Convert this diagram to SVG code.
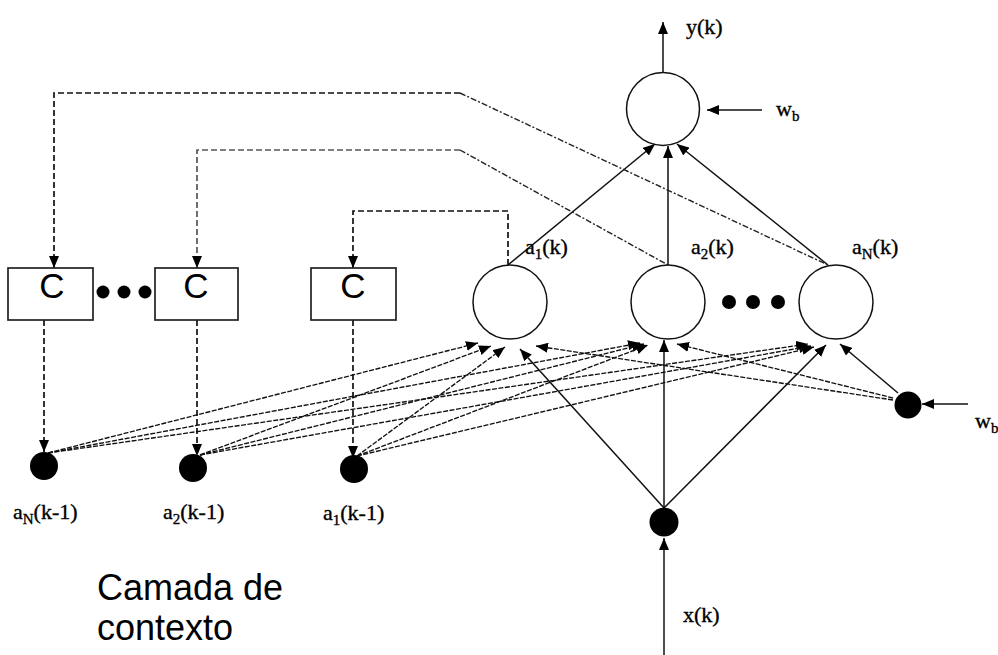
<svg xmlns="http://www.w3.org/2000/svg" width="998" height="655" viewBox="0 0 998 655">
  <style>
    .neuron { fill: none; stroke: #111; stroke-width: 1.5; }
    .dot { fill: #000; }
    .box { fill: #fff; stroke: #222; stroke-width: 1.7; }
    .solid { stroke: #111; stroke-width: 1.5; fill: none; }
    .fb { stroke: #111; stroke-width: 1.7; fill: none; stroke-dasharray: 6 3; }
    .fbdiag { stroke: #222; stroke-width: 1.4; fill: none; stroke-dasharray: 6 2 2 2; }
    .ctx { stroke: #111; stroke-width: 1.35; fill: none; stroke-dasharray: 5 1.5; }
    .lbl { font-family: "Liberation Serif", "Times New Roman", serif; font-size: 22px; fill: #000; stroke: #000; stroke-width: 0.35; }
    .sub { font-size: 15px; }
    .cl { font-family: "Liberation Sans", Arial, sans-serif; font-size: 35px; fill: #000; text-anchor: middle; }
    .cap { font-family: "Liberation Sans", Arial, sans-serif; font-size: 36px; fill: #000; }
  </style>
  <defs>
    <marker id="ah" viewBox="0 0 12 10" refX="12" refY="5" markerWidth="12" markerHeight="10" markerUnits="userSpaceOnUse" orient="auto">
      <path d="M0,0 L12,5 L0,10 z" fill="#000"/>
    </marker>
  </defs>

  <!-- connectors -->
  <g id="connectors">
    <!-- output -->
    <line class="solid" x1="663" y1="72" x2="663" y2="22" marker-end="url(#ah)"/>
    <line class="solid" x1="762" y1="110" x2="707" y2="110" marker-end="url(#ah)"/>
    <!-- hidden to output -->
    <line class="solid" x1="508" y1="265" x2="655" y2="144" marker-end="url(#ah)"/>
    <line class="solid" x1="668" y1="265" x2="668" y2="146" marker-end="url(#ah)"/>
    <line class="solid" x1="828" y1="265" x2="677" y2="144" marker-end="url(#ah)"/>

    <!-- feedback to context units -->
    <polyline class="fb" points="460,93 54,93 54,268" marker-end="url(#ah)"/>
    <line class="fbdiag" x1="460" y1="93" x2="828" y2="265"/>
    <polyline class="fb" points="460,150 197,150 197,268" style="stroke:#555" marker-end="url(#ah)"/>
    <line class="fbdiag" x1="460" y1="150" x2="668" y2="265"/>
    <polyline class="fb" points="508,265 508,211 353,211 353,268" marker-end="url(#ah)"/>

    <!-- context units to delayed states -->
    <line class="fb" x1="44" y1="320" x2="44" y2="452" marker-end="url(#ah)"/>
    <line class="fb" x1="197" y1="320" x2="197" y2="456" marker-end="url(#ah)"/>
    <line class="fb" x1="353" y1="320" x2="353" y2="458" marker-end="url(#ah)"/>

    <!-- delayed states to hidden layer -->
    <line class="ctx" x1="48" y1="453" x2="478" y2="343" marker-end="url(#ah)"/>
    <line class="ctx" x1="48" y1="453" x2="640" y2="343" marker-end="url(#ah)"/>
    <line class="ctx" x1="48" y1="453" x2="808" y2="344" marker-end="url(#ah)"/>
    <line class="ctx" x1="200" y1="455" x2="491" y2="346" marker-end="url(#ah)"/>
    <line class="ctx" x1="200" y1="455" x2="644" y2="344" marker-end="url(#ah)"/>
    <line class="ctx" x1="200" y1="455" x2="811" y2="346" marker-end="url(#ah)"/>
    <line class="ctx" x1="357" y1="456" x2="505" y2="347" marker-end="url(#ah)"/>
    <line class="ctx" x1="357" y1="456" x2="648" y2="345" marker-end="url(#ah)"/>
    <line class="ctx" x1="357" y1="456" x2="814" y2="347" marker-end="url(#ah)"/>

    <!-- input to hidden layer -->
    <line class="solid" x1="664" y1="508" x2="520" y2="349" marker-end="url(#ah)"/>
    <line class="solid" x1="664" y1="508" x2="664" y2="340" marker-end="url(#ah)"/>
    <line class="solid" x1="664" y1="508" x2="826" y2="345" marker-end="url(#ah)"/>
    <line class="solid" x1="664" y1="655" x2="664" y2="538" marker-end="url(#ah)"/>

    <!-- bias to hidden layer -->
    <line class="ctx" x1="893" y1="400" x2="536" y2="346" marker-end="url(#ah)"/>
    <line class="ctx" x1="893" y1="398" x2="677" y2="344" marker-end="url(#ah)"/>
    <line class="solid" x1="898" y1="393" x2="840" y2="344" marker-end="url(#ah)"/>
    <line class="solid" x1="968" y1="404" x2="922" y2="404" marker-end="url(#ah)"/>
  </g>

  <!-- output neuron -->
  <g id="output">
    <circle class="neuron" cx="663" cy="109" r="36.5"/>
    <text class="lbl" x="686" y="34">y(k)</text>
    <text class="lbl" x="776" y="116">w<tspan class="sub" dy="5">b</tspan></text>
  </g>

  <!-- hidden layer -->
  <g id="hidden1">
    <circle class="neuron" cx="510" cy="302" r="37"/>
    <text class="lbl" x="525" y="254">a<tspan class="sub" dy="5">1</tspan><tspan dy="-5">(k)</tspan></text>
  </g>
  <g id="hidden2">
    <circle class="neuron" cx="668" cy="302" r="37"/>
    <text class="lbl" x="691" y="254">a<tspan class="sub" dy="5">2</tspan><tspan dy="-5">(k)</tspan></text>
  </g>
  <g id="hidden-dots">
    <circle class="dot" cx="729" cy="302" r="7"/>
    <circle class="dot" cx="753" cy="302" r="7"/>
    <circle class="dot" cx="778" cy="302" r="7"/>
  </g>
  <g id="hiddenN">
    <circle class="neuron" cx="836" cy="302" r="37"/>
    <text class="lbl" x="852" y="254">a<tspan class="sub" dy="5">N</tspan><tspan dy="-5">(k)</tspan></text>
  </g>

  <!-- context units -->
  <g id="contextN">
    <rect class="box" x="8" y="268" width="85" height="52"/>
    <text class="cl" x="52" y="298">C</text>
  </g>
  <g id="context-dots">
    <circle class="dot" cx="103" cy="292" r="6.5"/>
    <circle class="dot" cx="124" cy="292" r="6.5"/>
    <circle class="dot" cx="145" cy="292" r="6.5"/>
  </g>
  <g id="context2">
    <rect class="box" x="155" y="268" width="83" height="52"/>
    <text class="cl" x="196" y="298">C</text>
  </g>
  <g id="context1">
    <rect class="box" x="311" y="268" width="85" height="52"/>
    <text class="cl" x="353" y="298">C</text>
  </g>

  <!-- delayed hidden states -->
  <g id="stateN">
    <circle class="dot" cx="44" cy="466" r="14"/>
    <text class="lbl" x="13" y="519">a<tspan class="sub" dy="5">N</tspan><tspan dy="-5">(k-1)</tspan></text>
  </g>
  <g id="state2">
    <circle class="dot" cx="193" cy="468" r="14"/>
    <text class="lbl" x="163" y="519">a<tspan class="sub" dy="5">2</tspan><tspan dy="-5">(k-1)</tspan></text>
  </g>
  <g id="state1">
    <circle class="dot" cx="354" cy="469" r="14"/>
    <text class="lbl" x="323" y="520">a<tspan class="sub" dy="5">1</tspan><tspan dy="-5">(k-1)</tspan></text>
  </g>

  <!-- input and bias -->
  <g id="input">
    <circle class="dot" cx="664" cy="522" r="14.5"/>
    <text class="lbl" x="683" y="622">x(k)</text>
  </g>
  <g id="bias">
    <circle class="dot" cx="908" cy="405" r="13.5"/>
    <text class="lbl" x="975" y="428">w<tspan class="sub" dy="5">b</tspan></text>
  </g>

  <!-- layer caption -->
  <g id="caption">
    <text class="cap" x="97" y="600">Camada de</text>
    <text class="cap" x="97" y="640">contexto</text>
  </g>
</svg>
